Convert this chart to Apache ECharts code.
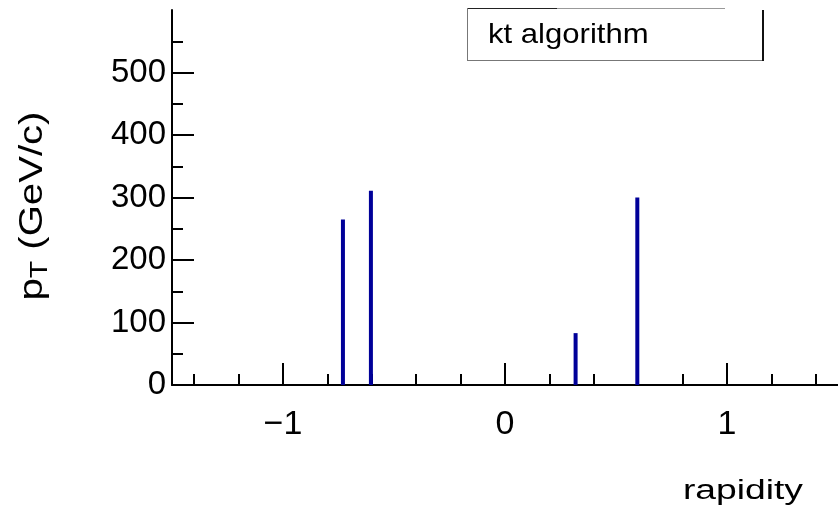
<!DOCTYPE html>
<html>
<head>
<meta charset="utf-8">
<script src="https://cdn.jsdelivr.net/npm/echarts@6/dist/echarts.min.js"></script>
<style>
  html, body { margin: 0; padding: 0; background: #fff; }
  #chart { width: 838px; height: 512px; }
</style>
</head>
<body>
<div id="chart"></div>
<script>
// Jet rapidity vs transverse momentum (kt algorithm)
const rapidity = [-0.73, -0.604, 0.318, 0.596];
const pT = [265, 311, 83, 300];

const xMajorTicks = [-1, 0, 1];
const xMinorTicks = [-1.4, -1.2, -0.8, -0.6, -0.4, -0.2, 0.2, 0.4, 0.6, 0.8, 1.2, 1.4];
const yMajorTicks = [0, 100, 200, 300, 400, 500];

const legendText = 'kt algorithm';
const xTitle = 'rapidity';

const FONT = 'Liberation Sans';
const INK = '#000';

const chart = echarts.init(document.getElementById('chart'), null, { renderer: 'canvas' });

const jets = rapidity.map((r, i) => [r, pT[i]]);

chart.setOption({
  animation: false,
  backgroundColor: '#fff',
  grid: { left: 172, right: 0, top: 10, bottom: 127, containLabel: false },
  xAxis: [
    {
      type: 'value', min: -1.5, max: 1.5, position: 'bottom',
      axisLine: { show: true, onZero: false, lineStyle: { color: INK, width: 2 } },
      axisTick: { show: true, inside: true, length: 22, customValues: xMajorTicks, lineStyle: { color: INK, width: 2 } },
      axisLabel: {
        show: true, customValues: xMajorTicks, margin: 23,
        fontFamily: FONT, fontSize: 34, color: INK,
        formatter: v => (v < 0 ? '\u2212' + Math.abs(v) : String(v))
      },
      splitLine: { show: false }
    },
    {
      type: 'value', min: -1.5, max: 1.5, position: 'bottom', gridIndex: 0,
      axisLine: { show: false, onZero: false },
      axisTick: { show: true, inside: true, length: 11, customValues: xMinorTicks, lineStyle: { color: INK, width: 2 } },
      axisLabel: { show: false },
      splitLine: { show: false }
    }
  ],
  yAxis: {
    type: 'value', min: 0, max: 600, interval: 100,
    axisLine: { show: true, onZero: false, lineStyle: { color: INK, width: 2 } },
    axisTick: { show: true, inside: true, length: 22, customValues: yMajorTicks, lineStyle: { color: INK, width: 2 } },
    minorTick: { show: true, splitNumber: 2, length: 11, lineStyle: { color: INK, width: 2 } },
    axisLabel: { show: true, customValues: yMajorTicks, margin: 6, fontFamily: FONT, fontSize: 33, color: INK },
    splitLine: { show: false }
  },
  series: [
    {
      type: 'bar',
      xAxisIndex: 0,
      data: jets,
      barWidth: 4,
      itemStyle: { color: '#000099' }
    }
  ],
  graphic: [
    // y-axis title: p_T (GeV/c)
    {
      type: 'text', x: 33, y: 206, rotation: Math.PI / 2, scaleX: 1.18,
      style: {
        text: '{p|p}{s|T}{p| (GeV/c)}',
        align: 'center', verticalAlign: 'middle',
        rich: {
          p: { fontFamily: FONT, fontSize: 34, fill: INK },
          s: { fontFamily: FONT, fontSize: 24, fill: INK, verticalAlign: 'bottom', padding: [14, 0, 0, 0] }
        }
      }
    },
    // x-axis title
    {
      type: 'text', x: 803, y: 492, scaleX: 1.38,
      style: { text: xTitle, align: 'right', verticalAlign: 'middle', fontFamily: FONT, fontSize: 27, fill: INK }
    },
    // legend pave
    { type: 'line', shape: { x1: 467, y1: 8.5, x2: 557, y2: 8.5 }, style: { stroke: '#222', lineWidth: 1 } },
    { type: 'line', shape: { x1: 557, y1: 8.5, x2: 725, y2: 8.5 }, style: { stroke: '#999', lineWidth: 1 } },
    { type: 'line', shape: { x1: 467.5, y1: 8, x2: 467.5, y2: 61 }, style: { stroke: '#777', lineWidth: 1 } },
    { type: 'line', shape: { x1: 467, y1: 60.5, x2: 764, y2: 60.5 }, style: { stroke: '#777', lineWidth: 1 } },
    { type: 'line', shape: { x1: 763, y1: 10, x2: 763, y2: 61 }, style: { stroke: '#111', lineWidth: 2 } },
    {
      type: 'text', x: 488, y: 35, scaleX: 1.11,
      style: { text: legendText, align: 'left', verticalAlign: 'middle', fontFamily: FONT, fontSize: 28, fill: INK }
    }
  ]
});
</script>
</body>
</html>
